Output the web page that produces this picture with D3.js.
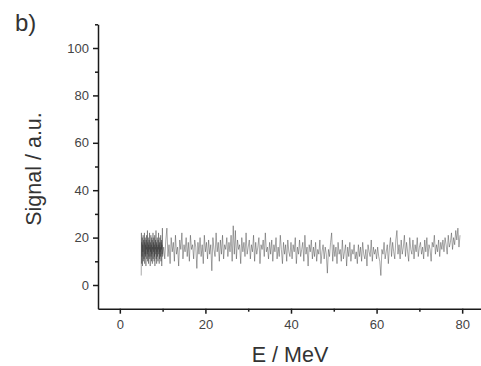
<!DOCTYPE html>
<html>
<head>
<meta charset="utf-8">
<script src="https://cdn.jsdelivr.net/npm/d3@7"></script>
<style>
    body { margin: 0; background: #fff; }
    svg { display: block; font-family: Arial, 'Liberation Sans', sans-serif; }
    .axis path, .axis line { stroke: #1a1a1a; stroke-width: 1.5; }
    .axis text { fill: #444; font-size: 13px; }
    .title { fill: #333; }
</style>
</head>
<body>
<div id="chart"></div>
<script>
const width = 481;
const height = 366;

// fine sampling 5.00 - 10.00 MeV
const lowStart = 5.0;
const lowStep = 0.05;
const lowSignal = [
    4, 22, 9, 18, 12, 20, 8, 17, 14, 21, 10, 16, 19, 11, 15, 22, 9, 18, 13, 20,
    12, 17, 8, 19, 15, 21, 11, 16, 13, 23, 10, 18, 14, 20, 9, 17, 12, 19, 15, 22,
    11, 16, 8, 18, 14, 21, 12, 17, 10, 20, 13, 19, 9, 16, 15, 22, 11, 18, 14, 20,
    10, 17, 12, 21, 8, 16, 15, 19, 13, 23, 11, 18, 9, 17, 14, 20, 12, 16, 10, 19,
    15, 22, 13, 17, 9, 18, 11, 20, 14, 16, 12, 21, 10, 18, 15, 19, 8, 17, 13, 24, 12,
];

// coarser sampling 10.25 - 79.50 MeV
const highStart = 10.25;
const highStep = 0.25;
const highSignal = [
    16, 11, 19, 24, 12, 17, 9, 20, 14, 18, 10, 21, 13, 16, 8, 19, 15, 22, 11, 17,
    14, 20, 12, 18, 10, 21, 15, 17, 11, 19, 16, 7, 18, 13, 20, 12, 17, 9, 21, 14,
    18, 11, 19, 13, 17, 6, 20, 15, 12, 22, 14, 18, 10, 19, 13, 21, 11, 17, 15, 20,
    12, 18, 14, 21, 10, 25, 13, 23, 11, 19, 15, 17, 9, 20, 14, 18, 12, 22, 13, 16,
    19, 11, 17, 14, 21, 10, 18, 13, 16, 20, 9, 17, 15, 19, 12, 22, 14, 16, 11, 18,
    13, 19, 10, 17, 14, 20, 11, 16, 12, 21, 15, 9, 18, 13, 17, 10, 19, 14, 12, 18,
    11, 17, 14, 20, 9, 16, 13, 19, 12, 15, 18, 10, 21, 13, 16, 8, 17, 14, 19, 11,
    16, 12, 18, 10, 15, 13, 19, 9, 14, 17, 11, 16, 13, 5, 15, 12, 18, 22, 10, 17,
    12, 16, 9, 18, 13, 15, 10, 19, 11, 14, 17, 8, 16, 12, 18, 10, 15, 13, 17, 11,
    14, 9, 17, 12, 16, 10, 18, 13, 11, 15, 8, 17, 14, 12, 19, 10, 16, 13, 15, 11,
    16, 12, 10, 4, 15, 13, 18, 11, 14, 17, 9, 16, 20, 12, 18, 14, 11, 19, 23, 13,
    17, 11, 19, 13, 16, 21, 12, 18, 14, 10, 20, 15, 13, 19, 11, 17, 14, 20, 12, 16,
    18, 13, 16, 11, 19, 14, 20, 12, 17, 15, 10, 18, 16, 21, 13, 17, 14, 19, 12, 18,
    15, 19, 14, 20, 17, 13, 21, 16, 18, 22, 15, 20, 17, 23, 19, 24, 16, 21,
];

const xTicks = [0, 20, 40, 60, 80];
const xMinorTicks = [10, 30, 50, 70];
const yTicks = [0, 20, 40, 60, 80, 100];
const yMinorTicks = [10, 30, 50, 70, 90, 110];

const points = lowSignal.map((v, i) => ({ e: lowStart + i * lowStep, v }))
    .concat(highSignal.map((v, i) => ({ e: highStart + i * highStep, v })));

const svg = d3.select('#chart')
    .append('svg')
    .attr('width', width)
    .attr('height', height);

const x = d3.scaleLinear()
    .domain([-5.1, 84.4])
    .range([98, 481]);

const y = d3.scaleLinear()
    .domain([-10, 110])
    .range([308.7, 24.3]);

// x axis
svg.append('g')
    .attr('class', 'axis')
    .attr('transform', `translate(0,${y(-10)})`)
    .call(d3.axisBottom(x).tickValues(xTicks).tickSize(5).tickSizeOuter(0).tickPadding(4))
    .call(g => g.selectAll('text').attr('dy', '0.9em'));

svg.append('g')
    .attr('class', 'axis')
    .attr('transform', `translate(0,${y(-10)})`)
    .call(d3.axisBottom(x).tickValues(xMinorTicks).tickSize(3).tickFormat(''))
    .call(g => g.select('.domain').remove());

// y axis
svg.append('g')
    .attr('class', 'axis')
    .attr('transform', `translate(${x(-5.1)},0)`)
    .call(d3.axisLeft(y).tickValues(yTicks).tickSize(5).tickSizeOuter(0).tickPadding(4));

svg.append('g')
    .attr('class', 'axis')
    .attr('transform', `translate(${x(-5.1)},0)`)
    .call(d3.axisLeft(y).tickValues(yMinorTicks).tickSize(3).tickFormat(''))
    .call(g => g.select('.domain').remove());

// signal trace
const line = d3.line()
    .x(d => x(d.e))
    .y(d => y(d.v));

svg.append('path')
    .datum(points)
    .attr('fill', 'none')
    .attr('stroke', '#333')
    .attr('stroke-opacity', 0.85)
    .attr('stroke-width', 0.5)
    .attr('d', line);

// titles
svg.append('text')
    .attr('class', 'title')
    .attr('x', 290)
    .attr('y', 362)
    .attr('text-anchor', 'middle')
    .style('font-size', '21.5px')
    .text('E / MeV');

svg.append('text')
    .attr('class', 'title')
    .attr('transform', 'translate(41,169) rotate(-90)')
    .attr('text-anchor', 'middle')
    .style('font-size', '21.5px')
    .text('Signal / a.u.');

svg.append('text')
    .attr('class', 'title')
    .attr('x', 15)
    .attr('y', 31)
    .style('font-size', '24px')
    .text('b)');
</script>
</body>
</html>
